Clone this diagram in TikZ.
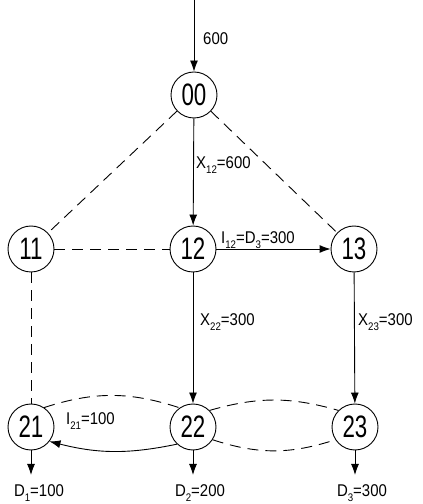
\documentclass[tikz,border=0pt]{standalone}
\usepackage{fontspec}
\setmainfont{Liberation Sans}
\newfontfamily\numfont[FakeStretch=0.72]{Liberation Sans}
\newfontfamily\lblfont[FakeStretch=0.88]{Liberation Sans}
\usetikzlibrary{arrows.meta}
\newcommand\sbs[1]{\raisebox{-4.5pt}{\fontsize{11}{11}\selectfont #1}}
\begin{document}
\begin{tikzpicture}[x=1pt,y=1pt,
  st/.style={circle,draw,line width=0.9pt,minimum size=46pt,inner sep=0pt,font=\numfont\fontsize{31}{31}\selectfont},
  flow/.style={line width=0.9pt,-{Latex[length=11pt,width=8pt]}},
  dsh/.style={line width=0.9pt,dash pattern=on 11pt off 7pt},
  lbl/.style={font=\lblfont\fontsize{17}{17}\selectfont,inner sep=0pt}]
\useasboundingbox (0,0) rectangle (423,504);
\node[st] (n00) at (194,409) {00};
\node[st] (n11) at (31,255) {11};
\node[st] (n12) at (193,255) {12};
\node[st] (n13) at (354,255) {13};
\node[st] (n21) at (31,77) {21};
\node[st] (n22) at (193,77) {22};
\node[st] (n23) at (355,77) {23};
\coordinate (top) at (194,504);
\coordinate (d1) at (31,29);
\coordinate (d2) at (193,29);
\coordinate (d3) at (355,29);
% connectors
\draw[flow] (top) -- (n00);
\draw[flow] (n00) -- (n12);
\draw[dsh] (n00) -- (n11);
\draw[dsh] (n00) -- (n13);
\draw[dsh] (n11) -- (n12);
\draw[flow] (n12) -- (n13);
\draw[dsh] (n11) -- (n21);
\draw[flow] (n12) -- (n22);
\draw[flow] (n13) -- (n23);
\draw[flow] (n21) -- (d1);
\draw[flow] (n22) -- (d2);
\draw[flow] (n23) -- (d3);
\draw[dsh] (n21.56) to[bend left=18] (n22.125);
\draw[dsh] (n22.45) to[bend left=16] (n23.135);
\draw[dsh] (n22.-33) to[bend right=18] (n23.-147);
\draw[flow] (n22.-133) to[bend left=13] (n21.-38);
% labels
\node[lbl,anchor=west] (l600) at (203,465) {600};
\node[lbl,anchor=west] (lx12) at (196,339) {X\sbs{12}=600};
\node[lbl,anchor=west] (li12) at (221,264) {I\sbs{12}=D\sbs{3}=300};
\node[lbl,anchor=west] (lx22) at (200,182) {X\sbs{22}=300};
\node[lbl,anchor=west] (lx23) at (358,182) {X\sbs{23}=300};
\node[lbl,anchor=west] (li21) at (66,83) {I\sbs{21}=100};
\node[lbl] (ld1) at (39,11) {D\sbs{1}=100};
\node[lbl] (ld2) at (200,11) {D\sbs{2}=200};
\node[lbl] (ld3) at (362,11) {D\sbs{3}=300};
\end{tikzpicture}
\end{document}
